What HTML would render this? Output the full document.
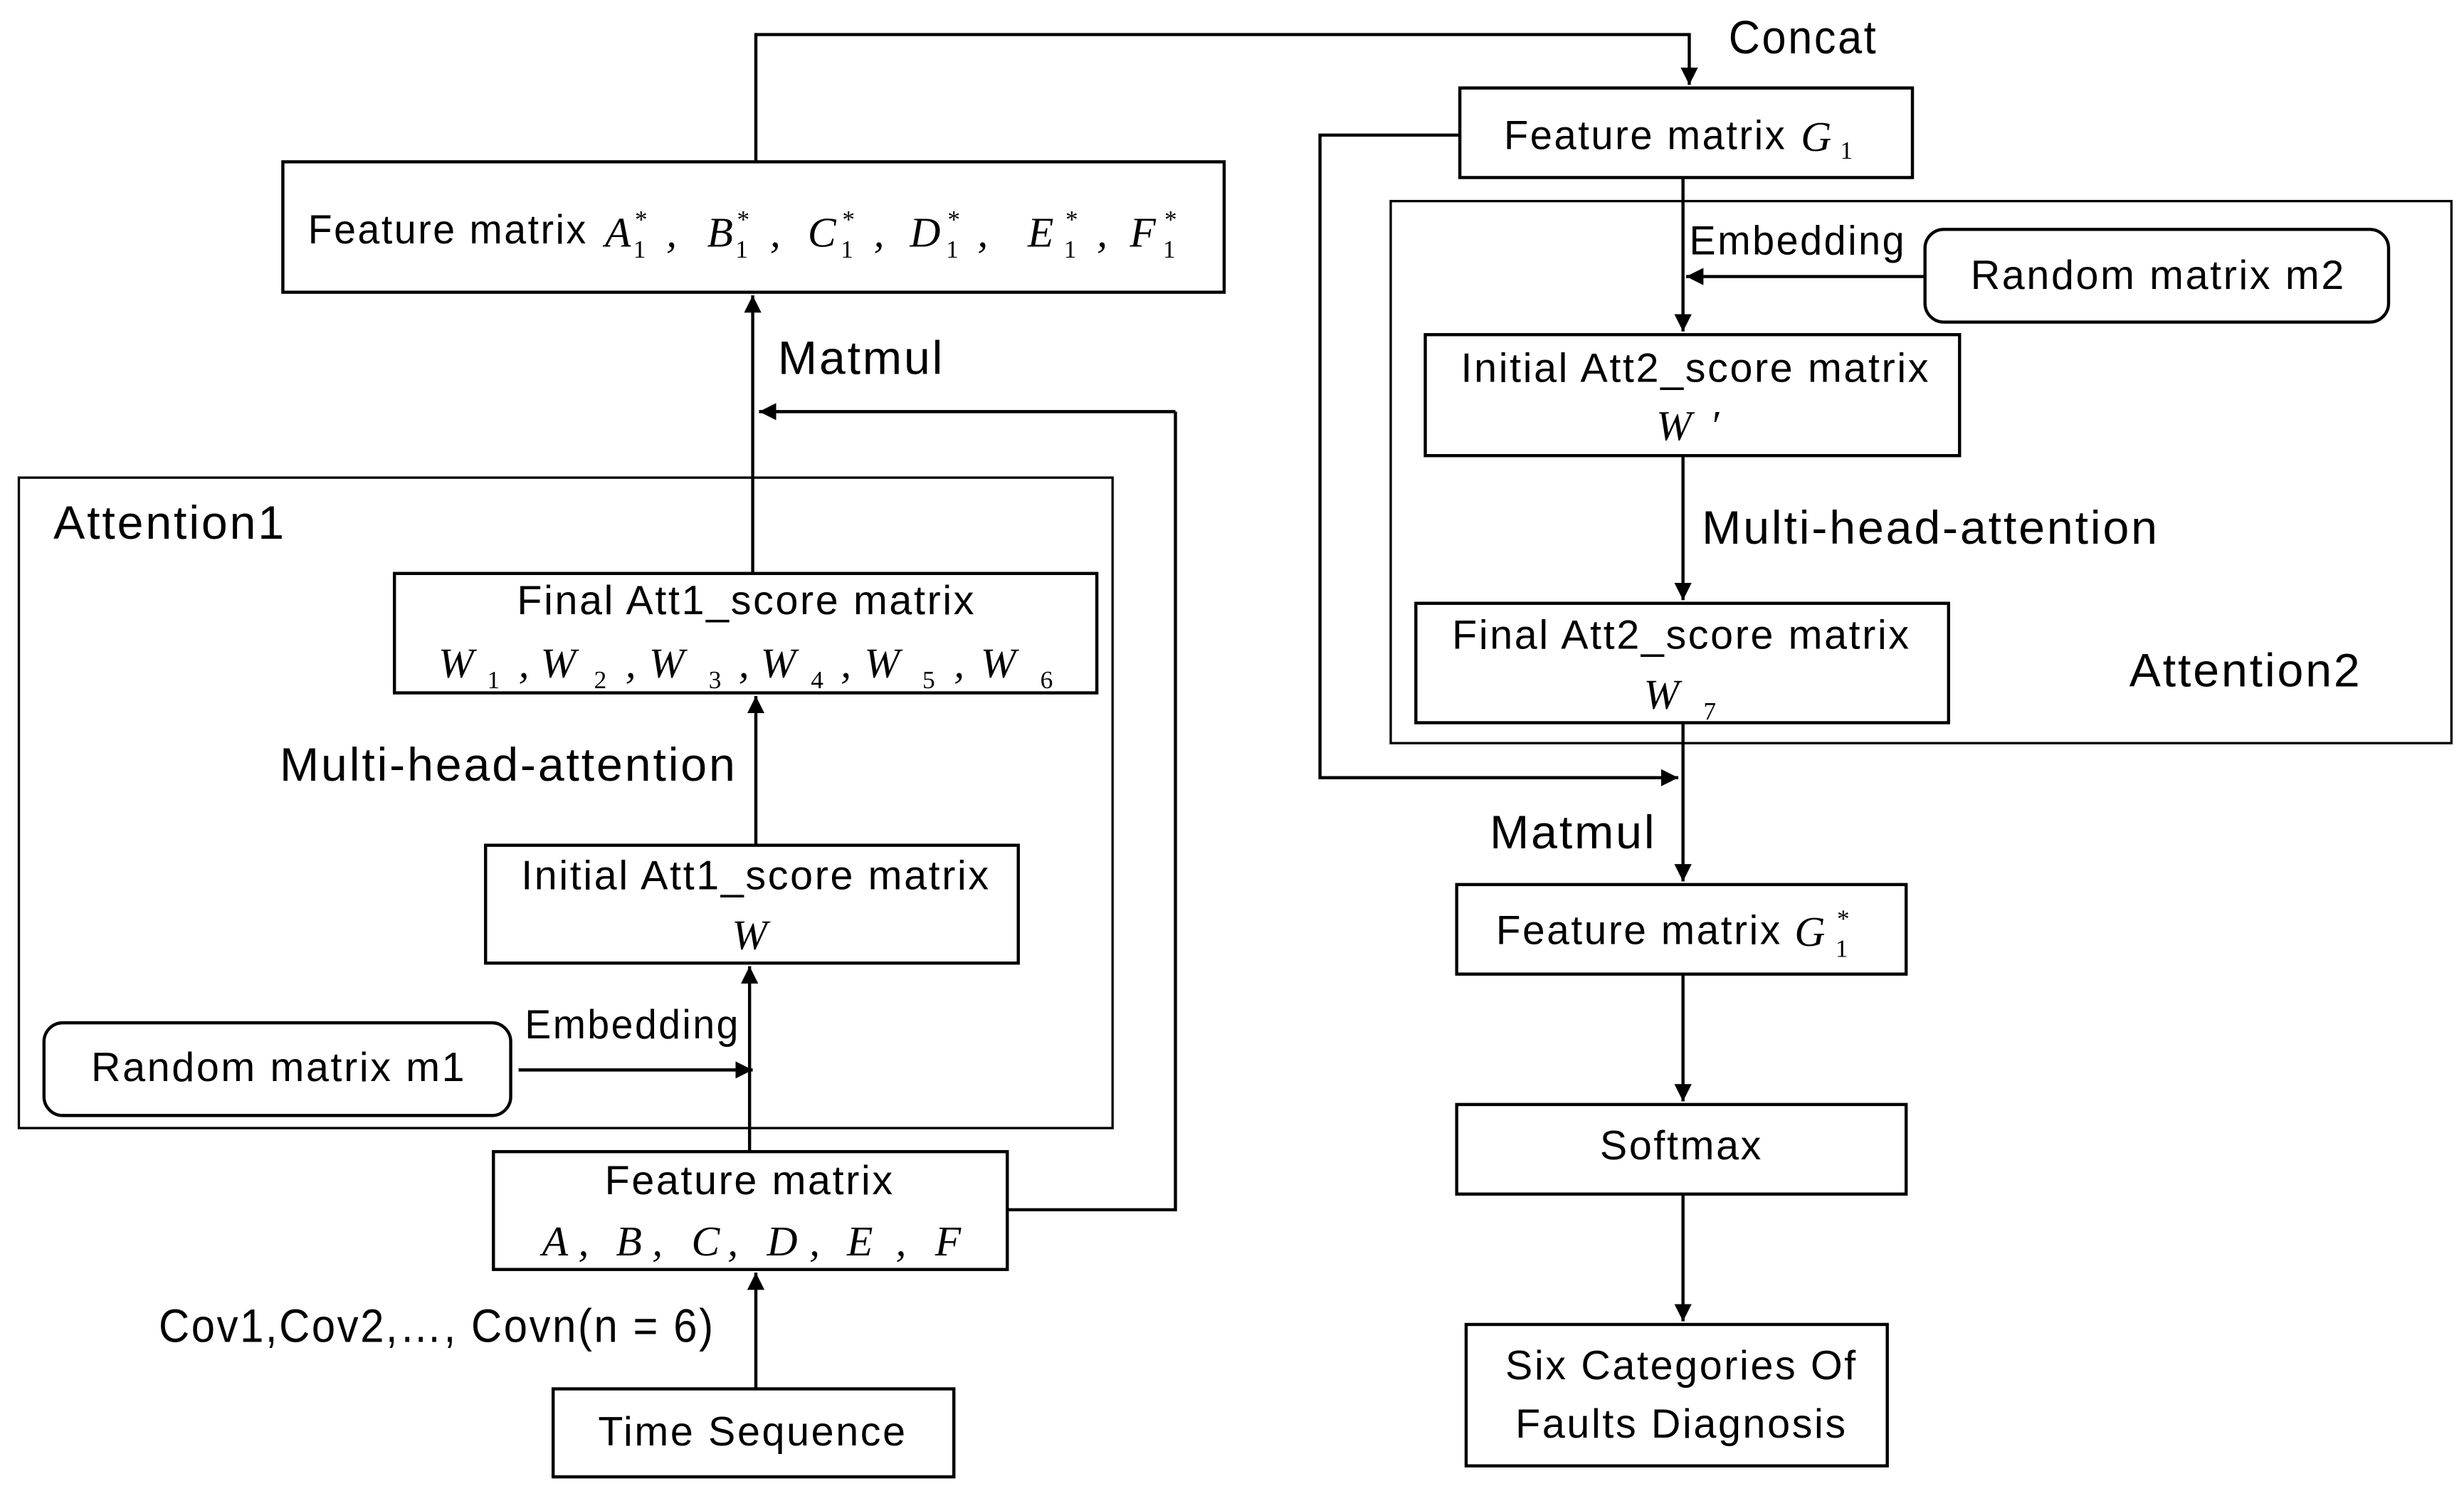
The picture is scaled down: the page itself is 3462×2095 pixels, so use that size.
<!DOCTYPE html>
<html><head><meta charset="utf-8"><style>
html,body{margin:0;padding:0;background:#fff;}
svg{display:block;}
text{font-family:"Liberation Sans",sans-serif;fill:#000;}
.t{font-size:26px;letter-spacing:1.2px;}
.L{font-size:30px;letter-spacing:1.3px;}
.m{font-family:"Liberation Serif",serif;font-style:italic;font-size:27px;letter-spacing:0;}
.s{font-family:"Liberation Serif",serif;font-size:16px;letter-spacing:0;}
</style></head><body>
<svg width="3462" height="2095" viewBox="0 0 1568 949" preserveAspectRatio="none" xmlns="http://www.w3.org/2000/svg">
<defs><marker id="a" viewBox="0 0 10 10" refX="10" refY="5" markerWidth="5.5" markerHeight="5.5" orient="auto"><path d="M0,0L10,5L0,10z" fill="#000"/></marker></defs>
<g fill="none" stroke="#000" stroke-width="2">
<rect x="180" y="103" width="599" height="83"/>
<rect x="929" y="56" width="288" height="57"/>
<rect x="885" y="128" width="675" height="345" stroke-width="1.5"/>
<rect x="1225" y="146" width="295" height="59" rx="12"/>
<rect x="907" y="213" width="340" height="77"/>
<rect x="901" y="384" width="339" height="76"/>
<rect x="927" y="563" width="286" height="57"/>
<rect x="927" y="703" width="286" height="57"/>
<rect x="933" y="843" width="268" height="90"/>
<rect x="12" y="304" width="696" height="414" stroke-width="1.5"/>
<rect x="251" y="365" width="447" height="76"/>
<rect x="309" y="538" width="339" height="75"/>
<rect x="28" y="651" width="297" height="59" rx="12"/>
<rect x="314" y="733" width="327" height="75"/>
<rect x="352" y="884" width="255" height="56"/>
<path d="M481,103V22H1075V54" marker-end="url(#a)"/>
<path d="M929,86H840V495H1068" marker-end="url(#a)"/>
<path d="M1071,113V211" marker-end="url(#a)"/>
<path d="M1225,176H1073" marker-end="url(#a)"/>
<path d="M1071,290V382" marker-end="url(#a)"/>
<path d="M1071,460V561" marker-end="url(#a)"/>
<path d="M1071,620V701" marker-end="url(#a)"/>
<path d="M1071,760V841" marker-end="url(#a)"/>
<path d="M748,262H483" marker-end="url(#a)"/>
<path d="M479,365V188" marker-end="url(#a)"/>
<path d="M481,538V443" marker-end="url(#a)"/>
<path d="M477,733V615" marker-end="url(#a)"/>
<path d="M330,681H479" marker-end="url(#a)"/>
<path d="M641,770H748V262"/>
<path d="M481,884V810" marker-end="url(#a)"/>
</g>
<g>
<text class="t" x="196" y="155" textLength="178" lengthAdjust="spacingAndGlyphs">Feature matrix</text>
<text class="m" x="385" y="157">A</text><text class="m" x="450" y="157">B</text><text class="m" x="514" y="157">C</text><text class="m" x="579" y="157">D</text><text class="m" x="654" y="157">E</text><text class="m" x="719" y="157">F</text>
<text class="s" x="403" y="164">1</text><text class="s" x="404" y="145">*</text><text class="m" x="424" y="157">,</text>
<text class="s" x="468" y="164">1</text><text class="s" x="469" y="145">*</text><text class="m" x="490" y="157">,</text>
<text class="s" x="535" y="164">1</text><text class="s" x="536" y="145">*</text><text class="m" x="556" y="157">,</text>
<text class="s" x="602" y="164">1</text><text class="s" x="603" y="145">*</text><text class="m" x="622" y="157">,</text>
<text class="s" x="677" y="164">1</text><text class="s" x="678" y="145">*</text><text class="m" x="698" y="157">,</text>
<text class="s" x="740" y="164">1</text><text class="s" x="741" y="145">*</text>

<text class="t" x="957" y="95" textLength="180" lengthAdjust="spacingAndGlyphs">Feature matrix</text>
<text class="m" x="1146" y="96">G</text><text class="s" x="1171" y="101">1</text>
<text class="t" x="1254" y="184">Random matrix m2</text>
<text class="t" x="1079" y="243" text-anchor="middle">Initial Att2_score matrix</text>
<text class="m" x="1054" y="280">W</text><text class="m" x="1088" y="280">′</text>
<text class="t" x="1070" y="413" text-anchor="middle">Final Att2_score matrix</text>
<text class="m" x="1046" y="451">W</text><text class="s" x="1084" y="458">7</text>
<text class="t" x="952" y="601" textLength="182" lengthAdjust="spacingAndGlyphs">Feature matrix</text>
<text class="m" x="1142" y="602">G</text><text class="s" x="1168" y="609">1</text><text class="s" x="1169" y="590">*</text>
<text class="t" x="1070" y="738" text-anchor="middle">Softmax</text>
<text class="t" x="1070" y="878" text-anchor="middle">Six Categories Of</text>
<text class="t" x="1070" y="915" text-anchor="middle">Faults Diagnosis</text>
<text class="t" x="475" y="391" text-anchor="middle">Final Att1_score matrix</text>
<text class="m" x="279" y="431">W</text><text class="s" x="310" y="438">1</text><text class="m" x="330" y="431">,</text>
<text class="m" x="344" y="431">W</text><text class="s" x="378" y="438">2</text><text class="m" x="398" y="431">,</text>
<text class="m" x="413" y="431">W</text><text class="s" x="451" y="438">3</text><text class="m" x="470" y="431">,</text>
<text class="m" x="484" y="431">W</text><text class="s" x="516" y="438">4</text><text class="m" x="535" y="431">,</text>
<text class="m" x="550" y="431">W</text><text class="s" x="587" y="438">5</text><text class="m" x="607" y="431">,</text>
<text class="m" x="624" y="431">W</text><text class="s" x="662" y="438">6</text>
<text class="t" x="481" y="566" text-anchor="middle">Initial Att1_score matrix</text>
<text class="m" x="477" y="604" text-anchor="middle">W</text>
<text class="t" x="58" y="688">Random matrix m1</text>
<text class="t" x="477" y="760" text-anchor="middle">Feature matrix</text>
<text class="m" x="345" y="799">A</text><text class="m" x="368" y="799">,</text>
<text class="m" x="392" y="799">B</text><text class="m" x="415" y="799">,</text>
<text class="m" x="440" y="799">C</text><text class="m" x="463" y="799">,</text>
<text class="m" x="488" y="799">D</text><text class="m" x="515" y="799">,</text>
<text class="m" x="539" y="799">E</text><text class="m" x="570" y="799">,</text>
<text class="m" x="595" y="799">F</text>
<text class="t" x="479" y="920" text-anchor="middle">Time Sequence</text>
<text class="t" x="1075" y="162" textLength="138" lengthAdjust="spacingAndGlyphs">Embedding</text>
<text class="t" x="334" y="661" textLength="137" lengthAdjust="spacingAndGlyphs">Embedding</text>
</g>
<g>
<text class="L" x="1100" y="34" textLength="95" lengthAdjust="spacingAndGlyphs">Concat</text>
<text class="L" x="1083" y="346">Multi-head-attention</text>
<text class="L" x="1355" y="437">Attention2</text>
<text class="L" x="948" y="540">Matmul</text>
<text class="L" x="495" y="238">Matmul</text>
<text class="L" x="34" y="343">Attention1</text>
<text class="L" x="178" y="497">Multi-head-attention</text>
<text class="L" x="101" y="854" textLength="354" lengthAdjust="spacingAndGlyphs">Cov1,Cov2,…, Covn(n = 6)</text>
</g>
</svg>
</body></html>
